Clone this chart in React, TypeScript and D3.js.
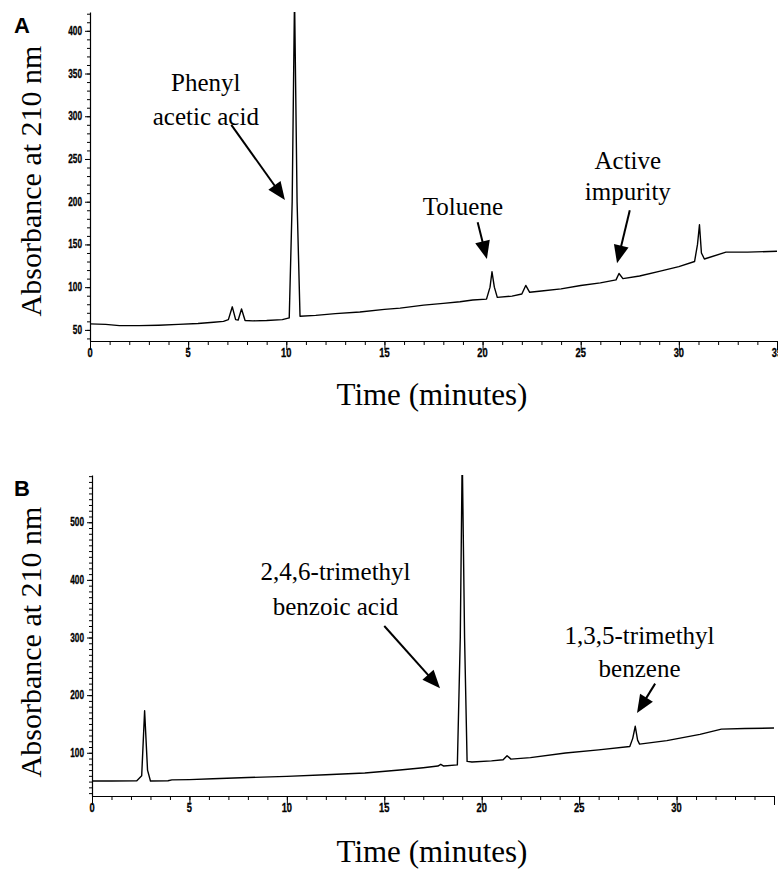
import React, { useEffect, useRef } from 'react';
import * as d3 from 'd3';

const W = 778;
const H = 869;

// chromatogram A: [time (min), absorbance]
const traceA: [number, number][] = [
  [0, 57], [0.8, 56.5], [1.5, 55], [2.5, 55], [3.5, 55.5], [4.5, 56.5], [5.5, 57.5],
  [6.3, 59], [6.8, 60], [7.05, 62], [7.25, 77], [7.42, 62], [7.55, 61.5], [7.72, 74.5],
  [7.9, 61], [8.3, 60.5], [9.0, 61], [9.8, 62], [10.15, 64], [10.3, 200], [10.42, 440],
  [10.55, 200], [10.7, 66], [11.5, 67], [12.5, 69], [13.75, 71], [15, 74], [15.8, 75.5],
  [17, 79], [18, 81], [18.85, 83], [19.5, 85], [20.2, 86], [20.38, 100], [20.48, 118],
  [20.6, 100], [20.75, 88], [21.5, 89.5], [22.0, 92], [22.2, 102], [22.4, 94], [23, 95.5],
  [24, 98], [25, 102], [26, 105], [26.8, 108.5], [26.95, 116], [27.15, 110], [28, 113],
  [29, 118.5], [30, 124], [30.8, 130], [30.95, 150], [31.05, 173], [31.15, 140], [31.3, 133],
  [32.4, 141], [33.5, 141], [35, 142],
];

// chromatogram B
const traceB: [number, number][] = [
  [0, 51], [1, 51], [2.3, 51.5], [2.55, 60], [2.7, 173], [2.85, 70], [3.0, 51], [3.9, 51.5],
  [4.1, 53], [5, 53.5], [6.2, 55], [8, 57], [10, 59], [12, 62], [14, 65], [15.8, 70],
  [17, 74], [17.75, 77], [17.9, 80], [18.05, 77], [18.75, 79], [18.9, 300], [19.0, 620],
  [19.12, 300], [19.25, 85], [19.5, 84], [20.5, 86], [21.1, 88], [21.3, 95], [21.5, 89],
  [22.5, 91.5], [24.3, 99.5], [26, 105], [27.6, 111], [27.75, 125], [27.88, 146], [28.0, 122],
  [28.1, 115], [29.5, 121], [31.2, 132], [32.3, 141], [33.5, 142], [35, 143],
];

const xMajor = [0, 5, 10, 15, 20, 25, 30, 35];
const xLabelsA = [0, 5, 10, 15, 20, 25, 30, 35];
const xLabelsB = [0, 5, 10, 15, 20, 25, 30];
const yLabelsA = [50, 100, 150, 200, 250, 300, 350, 400];
const yLabelsB = [100, 200, 300, 400, 500];

// annotation text in data coords [time, absorbance]
const notesA = [
  { text: 'Phenyl', t: 5.9, v: 330 },
  { text: 'acetic acid', t: 5.9, v: 290 },
  { text: 'Toluene', t: 19.0, v: 185 },
  { text: 'Active', t: 27.4, v: 238 },
  { text: 'impurity', t: 27.4, v: 202 },
];
const arrowsA = [
  { from: [7.2, 290], to: [9.93, 202] },
  { from: [19.75, 176], to: [20.22, 133] },
  { from: [27.5, 190], to: [26.85, 128] },
];
const notesB = [
  { text: '2,4,6-trimethyl', t: 12.5, v: 400 },
  { text: 'benzoic acid', t: 12.5, v: 339 },
  { text: '1,3,5-trimethyl', t: 28.1, v: 288 },
  { text: 'benzene', t: 28.1, v: 231 },
];
const arrowsB = [
  { from: [15.0, 320], to: [17.86, 212] },
  { from: [28.9, 220], to: [27.97, 169] },
];

const serif = '"Liberation Serif", "Times New Roman", serif';
const sans = '"Liberation Sans", Arial, sans-serif';

type Panel = {
  tag: string;
  tagY: number;
  trace: [number, number][];
  xRange: [number, number];
  yDomain: [number, number];
  yRange: [number, number];
  yMinorStep: number;
  yLabels: number[];
  xLabels: number[];
  notes: { text: string; t: number; v: number }[];
  arrows: { from: number[]; to: number[] }[];
  yTitleY: number;
  xTitleY: number;
};

const panels: Panel[] = [
  {
    tag: 'A', tagY: 33, trace: traceA, xRange: [90, 777], yDomain: [37, 422], yRange: [341, 12],
    yMinorStep: 10, yLabels: yLabelsA, xLabels: xLabelsA, notes: notesA, arrows: arrowsA,
    yTitleY: 181, xTitleY: 405,
  },
  {
    tag: 'B', tagY: 496, trace: traceB, xRange: [92, 774], yDomain: [25, 582], yRange: [796, 475],
    yMinorStep: 10, yLabels: yLabelsB, xLabels: xLabelsB, notes: notesB, arrows: arrowsB,
    yTitleY: 642, xTitleY: 862,
  },
];

function drawArrow(g: any, x1: number, y1: number, x2: number, y2: number) {
  const dx = x2 - x1, dy = y2 - y1;
  const len = Math.hypot(dx, dy);
  const ux = dx / len, uy = dy / len;
  const L = 18, hw = 7.5;
  const bx = x2 - ux * L, by = y2 - uy * L;
  g.append('line')
    .attr('x1', x1).attr('y1', y1).attr('x2', bx + ux * 2).attr('y2', by + uy * 2)
    .attr('stroke', '#000').attr('stroke-width', 2);
  g.append('path')
    .attr('d', `M${x2},${y2}L${bx - uy * hw},${by + ux * hw}L${bx + uy * hw},${by - ux * hw}Z`)
    .attr('fill', '#000');
}

export default function App() {
  const svgRef = useRef<SVGSVGElement>(null);

  useEffect(() => {
    const svg = d3.select(svgRef.current);
    svg.selectAll('*').remove();
    svg.append('rect').attr('width', W).attr('height', H).attr('fill', '#fff');

    panels.forEach((p, i) => {
      const x = d3.scaleLinear().domain([0, 35]).range(p.xRange);
      const y = d3.scaleLinear().domain(p.yDomain).range(p.yRange);
      const x0 = p.xRange[0];
      const yBottom = p.yRange[0];
      const g = svg.append('g');

      // clip for the trace
      const clipId = `clip-${i}`;
      svg.append('clipPath').attr('id', clipId)
        .append('rect')
        .attr('x', x0).attr('y', p.yRange[1])
        .attr('width', p.xRange[1] - x0 + 2).attr('height', yBottom - p.yRange[1]);

      // y axis: minor ticks
      const yMinor = d3.range(Math.ceil(p.yDomain[0] / p.yMinorStep) * p.yMinorStep, p.yDomain[1], p.yMinorStep);
      g.append('g')
        .attr('transform', `translate(${x0},0)`)
        .call(d3.axisLeft(y).tickValues(yMinor).tickSize(3).tickSizeOuter(0).tickFormat(() => ''))
        .call(s => s.select('.domain').attr('stroke-width', 1.2))
        .call(s => s.selectAll('.tick line').attr('stroke-width', 1));
      g.append('g')
        .attr('transform', `translate(${x0},0)`)
        .call(d3.axisLeft(y).tickValues(p.yLabels).tickSize(5).tickSizeOuter(0).tickFormat(() => ''))
        .call(s => s.select('.domain').remove());
      g.selectAll('.ylab')
        .data(p.yLabels)
        .enter()
        .append('text')
        .attr('x', x0 - 8)
        .attr('y', d => y(d) + 4)
        .attr('text-anchor', 'end')
        .attr('font-family', sans)
        .attr('font-size', 12)
        .attr('font-weight', 'bold')
        .attr('stroke', '#000')
        .attr('stroke-width', 0.3)
        .attr('textLength', d => String(d).length * 4.6)
        .attr('lengthAdjust', 'spacingAndGlyphs')
        .text(d => String(d));

      // x axis
      g.append('g')
        .attr('transform', `translate(0,${yBottom})`)
        .call(d3.axisBottom(x).tickValues(d3.range(0, 36, 1)).tickSize(4).tickSizeOuter(0).tickFormat(() => ''))
        .call(s => s.select('.domain').attr('stroke-width', 1.2));
      g.append('g')
        .attr('transform', `translate(0,${yBottom})`)
        .call(d3.axisBottom(x).tickValues(xMajor).tickSize(9).tickSizeOuter(0).tickFormat(() => ''))
        .call(s => s.select('.domain').remove());
      g.selectAll('.xlab')
        .data(p.xLabels)
        .enter()
        .append('text')
        .attr('x', d => x(d))
        .attr('y', yBottom + 16)
        .attr('text-anchor', 'middle')
        .attr('font-family', sans)
        .attr('font-size', 12)
        .attr('font-weight', 'bold')
        .attr('stroke', '#000')
        .attr('stroke-width', 0.3)
        .attr('textLength', d => String(d).length * 5.2)
        .attr('lengthAdjust', 'spacingAndGlyphs')
        .text(d => String(d));

      // trace
      const line = d3.line<[number, number]>().x(d => x(d[0])).y(d => y(d[1]));
      g.append('path')
        .datum(p.trace)
        .attr('d', line)
        .attr('clip-path', `url(#${clipId})`)
        .attr('fill', 'none')
        .attr('stroke', '#000')
        .attr('stroke-width', 1.4)
        .attr('stroke-linejoin', 'round');

      // annotations
      p.notes.forEach(n => {
        g.append('text')
          .attr('x', x(n.t)).attr('y', y(n.v))
          .attr('text-anchor', 'middle')
          .attr('font-family', serif)
          .attr('font-size', 25)
          .text(n.text);
      });
      p.arrows.forEach(a => drawArrow(g, x(a.from[0]), y(a.from[1]), x(a.to[0]), y(a.to[1])));

      // panel tag
      g.append('text')
        .attr('x', 14).attr('y', p.tagY)
        .attr('font-family', sans).attr('font-weight', 'bold').attr('font-size', 22)
        .text(p.tag);

      // axis titles
      g.append('text')
        .attr('transform', `translate(41,${p.yTitleY}) rotate(-90)`)
        .attr('text-anchor', 'middle')
        .attr('font-family', serif)
        .attr('font-size', 30)
        .text('Absorbance at 210 nm');
      g.append('text')
        .attr('x', 432).attr('y', p.xTitleY)
        .attr('text-anchor', 'middle')
        .attr('font-family', serif)
        .attr('font-size', 31)
        .text('Time (minutes)');
    });
  }, []);

  return (
    <div style={{ position: 'absolute', left: 0, top: 0 }}>
      <svg ref={svgRef} width={W} height={H} style={{ display: 'block' }} />
    </div>
  );
}
